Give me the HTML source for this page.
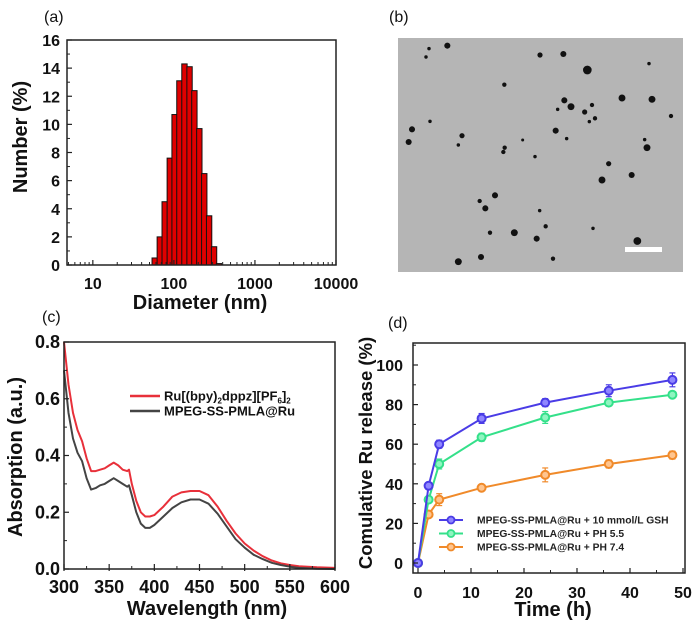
<!DOCTYPE html>
<html><head><meta charset="utf-8">
<style>
html,body{margin:0;padding:0;background:#fff;}
svg{display:block;font-family:"Liberation Sans",Arial,sans-serif;}
.tk{font-size:16px;font-weight:bold;fill:#111;}
.tt{font-size:20px;font-weight:bold;fill:#111;}
.pl{font-size:16px;fill:#111;}
</style></head>
<body>
<svg id="fig" width="700" height="629" viewBox="0 0 700 629">
  <g id="pa"></g>
  <g id="pb"></g>
  <g id="pc"></g>
  <g id="pd"></g>
</svg>
<script>
// ---- Panel (a) data ----
const diamCategories = [58,67,77,89,102,117,135,156,179,206,237,272,313,360,415];
const numberValues   = [0.5,2.0,4.5,7.6,10.7,13.1,14.3,14.1,12.4,9.7,6.5,3.5,1.3,0.1,0];
const aYTicks = [0,2,4,6,8,10,12,14,16];
const aXTicks = [10,100,1000,10000];
const aXTickLabels = ["10","100","1000","10000"];

// ---- Panel (b) TEM particles (x,y,r) ----
const temParticles = [[292,137,7],[237,146,4],[228,171,4],[570,165,6],[640,162,7],[712,210,10],[897,191,4],[463,254,5],[643,301,7],[663,320,8],[623,328,4],[704,336,6],[726,315,5],[735,355,5],[718,365,4],[816,294,8],[906,298,8],[963,348,5],[240,364,4],[186,388,7],[176,426,7],[336,407,6],[325,435,4],[464,443,5],[460,456,5],[518,420,3],[617,392,7],[650,416,4],[555,470,4],[884,419,4],[891,443,8],[776,491,6],[756,540,8],[845,525,7],[435,586,7],[389,603,5],[406,625,7],[569,632,4],[587,679,5],[420,698,5],[493,698,8],[560,716,7],[729,685,4],[862,723,9],[325,785,8],[393,771,7],[609,776,5]];

// ---- Panel (c) data ----
const wavelengths = [300,305,310,315,320,325,330,335,340,345,350,355,360,365,370,372,375,380,385,390,395,400,410,420,430,440,450,460,470,480,490,500,510,520,530,540,550,560,580,600];
const absRu   = [0.80,0.65,0.55,0.49,0.45,0.39,0.345,0.345,0.35,0.355,0.365,0.375,0.365,0.35,0.345,0.35,0.30,0.24,0.20,0.185,0.185,0.19,0.22,0.255,0.27,0.275,0.275,0.26,0.22,0.17,0.125,0.09,0.065,0.045,0.03,0.02,0.014,0.01,0.006,0.004];
const absNP   = [0.70,0.55,0.46,0.41,0.38,0.32,0.28,0.285,0.295,0.30,0.31,0.32,0.31,0.30,0.29,0.295,0.26,0.20,0.16,0.145,0.145,0.155,0.185,0.215,0.235,0.245,0.245,0.23,0.195,0.15,0.105,0.075,0.05,0.035,0.022,0.014,0.008,0.004,0.001,0];
const cYTicks = [0,0.2,0.4,0.6,0.8];
const cXTicks = [300,350,400,450,500,550,600];

// ---- Panel (d) data ----
const times = [0,2,4,12,24,36,48];
const relGSH  = [0,39,60,73,81,87,92.5];
const relPH55 = [0,32,50,63.5,73.5,81,85];
const relPH74 = [0,24.5,32,38,44.5,50,54.5];
const errGSH  = [0,1,2,2.5,2,3,3.5];
const errPH55 = [0,1,2.5,2,3,1.5,1.5];
const errPH74 = [0,1.5,3,1,3.5,2,2];
const dYTicks = [0,20,40,60,80,100];
const dXTicks = [0,10,20,30,40,50];

const NS="http://www.w3.org/2000/svg";
function mk(parent,tag,attrs,text){const e=document.createElementNS(NS,tag);for(const k in attrs)e.setAttribute(k,attrs[k]);if(text!==undefined)e.textContent=text;parent.appendChild(e);return e;}

// ===== Panel (a) =====
(function(){
  const g=document.getElementById('pa');
  const L=67,R=336,T=40,B=265;
  const lmin=Math.log10(4.8), lmax=4.0;
  const xs=v=>L+(Math.log10(v)-lmin)/(lmax-lmin)*(R-L);
  const ys=v=>B-v/16*(B-T);
  let t=mk(g,'text',{x:44,y:22,class:'pl'},'(a)');
  
  
  const bw=(R-L)*0.066/(lmax-lmin);
  diamCategories.forEach((d,i)=>{
    if(numberValues[i]<=0) return;
    const r=mk(g,'rect',{x:xs(d)-bw/2,y:ys(numberValues[i]),width:bw,height:B-ys(numberValues[i]),fill:'#e00000',stroke:'#111','stroke-width':1});
    
    
  });
  const box=mk(g,'rect',{x:L,y:T,width:R-L,height:B-T,fill:'none',stroke:'#222','stroke-width':1.5});
  
  
  aYTicks.forEach(v=>{
    mk(g,'line',{x1:L,x2:L+5,y1:ys(v),y2:ys(v),stroke:'#222','stroke-width':1.2});
    const l=mk(g,'text',{x:L-7,y:ys(v)+6,class:'tk','text-anchor':'end'},String(v));
    
    
    if(v<16) mk(g,'line',{x1:L,x2:L+3,y1:ys(v+1),y2:ys(v+1),stroke:'#222','stroke-width':1});
  });
  aXTicks.forEach((v,i)=>{
    mk(g,'line',{x1:xs(v),x2:xs(v),y1:B,y2:B-5,stroke:'#222','stroke-width':1.2});
    const l=mk(g,'text',{x:xs(v),y:289,class:'tk','text-anchor':'middle'},aXTickLabels[i]);
    
    
  });
  for(let dec=1;dec<=1000;dec*=10){for(let m=2;m<=9;m++){const v=dec*m;if(v<4.8||v>10000)continue;mk(g,'line',{x1:xs(v),x2:xs(v),y1:B,y2:B-3,stroke:'#222','stroke-width':1});}}
  t=mk(g,'text',{x:200,y:309,class:'tt','text-anchor':'middle'},'Diameter (nm)');
  
  
  t=mk(g,'text',{x:0,y:0,class:'tt','text-anchor':'middle',transform:'translate(27,137) rotate(-90)'},'Number (%)');
  
  
})();

// ===== Panel (b) =====
(function(){
  const g=document.getElementById('pb');
  let t=mk(g,'text',{x:389,y:22,class:'pl'},'(b)');
  
  
  const img=mk(g,'rect',{x:398,y:38,width:285,height:234,fill:'#b5b5b5'});
  
  
  temParticles.forEach(p=>{
    const c=mk(g,'circle',{cx:350+p[0]/3,cy:p[1]/3,r:Math.max(1.5,p[2]/3*1.3),fill:'#111'});
    
    
  });
  const sb=mk(g,'rect',{x:625,y:247,width:37,height:5,fill:'#fff'});
  
  
})();

// ===== Panel (c) =====
(function(){
  const g=document.getElementById('pc');
  const L=64,R=335,T=342,B=569;
  const xs=v=>L+(v-300)/300*(R-L);
  const ys=v=>B-v/0.8*(B-T);
  let t=mk(g,'text',{x:42,y:322,class:'pl'},'(c)');
  
  
  const series=[[absRu,'#e8303a','line-ru-complex'],[absNP,'#444','line-mpeg-ss-pmla-ru']];
  series.forEach(s=>{
    const d=wavelengths.map((w,i)=>(i?'L':'M')+xs(w).toFixed(1)+','+ys(s[0][i]).toFixed(1)).join('');
    const p=mk(g,'path',{d:d,fill:'none',stroke:s[1],'stroke-width':2,'stroke-linejoin':'round'});
    
    
  });
  const box=mk(g,'rect',{x:L,y:T,width:R-L,height:B-T,fill:'none',stroke:'#222','stroke-width':1.5});
  
  
  cYTicks.forEach(v=>{
    mk(g,'line',{x1:L,x2:L+5,y1:ys(v),y2:ys(v),stroke:'#222','stroke-width':1.2});
    if(v<0.8) mk(g,'line',{x1:L,x2:L+3,y1:ys(v+0.1),y2:ys(v+0.1),stroke:'#222','stroke-width':1});
    const l=mk(g,'text',{x:L-4,y:ys(v)+6,class:'tk','text-anchor':'end'},v.toFixed(1));
    l.setAttribute('style','font-size:18px');
    
    
  });
  cXTicks.forEach(v=>{
    mk(g,'line',{x1:xs(v),x2:xs(v),y1:B+2,y2:B-5,stroke:'#222','stroke-width':1.2});
    if(v<600) mk(g,'line',{x1:xs(v+25),x2:xs(v+25),y1:B,y2:B-3,stroke:'#222','stroke-width':1});
    const l=mk(g,'text',{x:xs(v),y:593,class:'tk','text-anchor':'middle'},String(v));
    l.setAttribute('style','font-size:18px');
    
    
  });
  t=mk(g,'text',{x:207,y:615,class:'tt','text-anchor':'middle'},'Wavelength (nm)');
  
  
  t=mk(g,'text',{x:0,y:0,class:'tt','text-anchor':'middle',transform:'translate(22,457) rotate(-90)'},'Absorption (a.u.)');
  
  
  // legend
  const lg=mk(g,'g',{});
  
  
  mk(lg,'line',{x1:130,x2:160,y1:396,y2:396,stroke:'#e8303a','stroke-width':2.5});
  const t1=mk(lg,'text',{x:164,y:400.5,'font-size':'13','font-weight':'bold',fill:'#111'});
  
  
  t1.innerHTML='Ru[(bpy)<tspan font-size="8" dy="3">2</tspan><tspan dy="-3">dppz][PF</tspan><tspan font-size="8" dy="3">6</tspan><tspan dy="-3">]</tspan><tspan font-size="8" dy="3">2</tspan>';
  mk(lg,'line',{x1:130,x2:160,y1:411,y2:411,stroke:'#444','stroke-width':2.5});
  const t2=mk(lg,'text',{x:164,y:415.5,'font-size':'13','font-weight':'bold',fill:'#111'},'MPEG-SS-PMLA@Ru');
  
  
})();

// ===== Panel (d) =====
(function(){
  const g=document.getElementById('pd');
  const L=413,R=685,T=343,B=573;
  const x0=418,x50=683,y0=563,y100=365;
  const xs=v=>x0+v/50*(x50-x0);
  const ys=v=>y0-v/100*(y0-y100);
  let t=mk(g,'text',{x:388,y:328,class:'pl'},'(d)');
  
  
  const series=[[relGSH,errGSH,'#4a3ce6','#8f86ff','series-gsh'],[relPH55,errPH55,'#34e08a','#8ff5c0','series-ph-5-5'],[relPH74,errPH74,'#f08a2a','#ffc58f','series-ph-7-4']];
  series.slice().reverse().forEach(s=>{
    const sg=mk(g,'g',{});
    
    
    const d=times.map((v,i)=>(i?'L':'M')+xs(v).toFixed(1)+','+ys(s[0][i]).toFixed(1)).join('');
    mk(sg,'path',{d:d,fill:'none',stroke:s[2],'stroke-width':2});
    times.forEach((v,i)=>{
      const e=s[1][i];
      if(e>0){
        mk(sg,'line',{x1:xs(v),x2:xs(v),y1:ys(s[0][i]+e),y2:ys(s[0][i]-e),stroke:s[2],'stroke-width':1.2});
        mk(sg,'line',{x1:xs(v)-3,x2:xs(v)+3,y1:ys(s[0][i]+e),y2:ys(s[0][i]+e),stroke:s[2],'stroke-width':1.2});
        mk(sg,'line',{x1:xs(v)-3,x2:xs(v)+3,y1:ys(s[0][i]-e),y2:ys(s[0][i]-e),stroke:s[2],'stroke-width':1.2});
      }
      const c=mk(sg,'circle',{cx:xs(v),cy:ys(s[0][i]),r:4,fill:s[3],stroke:s[2],'stroke-width':2});
      
      
    });
  });
  const box=mk(g,'rect',{x:L,y:T,width:R-L,height:B-T,fill:'none',stroke:'#222','stroke-width':1.5});
  
  
  dYTicks.forEach(v=>{
    mk(g,'line',{x1:L,x2:L+5,y1:ys(v),y2:ys(v),stroke:'#222','stroke-width':1.2});
    mk(g,'line',{x1:L,x2:L+3,y1:ys(v+10),y2:ys(v+10),stroke:'#222','stroke-width':1});
    const l=mk(g,'text',{x:L-10,y:ys(v)+6,class:'tk','text-anchor':'end'},String(v));
    
    
  });
  dXTicks.forEach(v=>{
    mk(g,'line',{x1:xs(v),x2:xs(v),y1:B,y2:B-5,stroke:'#222','stroke-width':1.2});
    if(v<50) mk(g,'line',{x1:xs(v+5),x2:xs(v+5),y1:B,y2:B-3,stroke:'#222','stroke-width':1});
    const l=mk(g,'text',{x:xs(v),y:598,class:'tk','text-anchor':'middle'},String(v));
    
    
  });
  t=mk(g,'text',{x:553,y:616,class:'tt','text-anchor':'middle'},'Time (h)');
  
  
  t=mk(g,'text',{x:0,y:0,class:'tt','text-anchor':'middle',transform:'translate(372,453) rotate(-90)'},'Comulative Ru release (%)');
  t.setAttribute('style','font-size:18.5px');
  
  
  const labels=['MPEG-SS-PMLA@Ru + 10 mmol/L GSH','MPEG-SS-PMLA@Ru + PH 5.5','MPEG-SS-PMLA@Ru + PH 7.4'];
  const lg=mk(g,'g',{});
  
  
  series.forEach((s,i)=>{
    const y=520+i*13.5;
    mk(lg,'line',{x1:439,x2:463,y1:y,y2:y,stroke:s[2],'stroke-width':2});
    mk(lg,'circle',{cx:451,cy:y,r:3.5,fill:s[3],stroke:s[2],'stroke-width':1.8});
    const tx=mk(lg,'text',{x:477,y:y+3.7,'font-size':'10.3','font-weight':'bold',fill:'#222'},labels[i]);
    
    
  });
})();
</script>
</body></html>
